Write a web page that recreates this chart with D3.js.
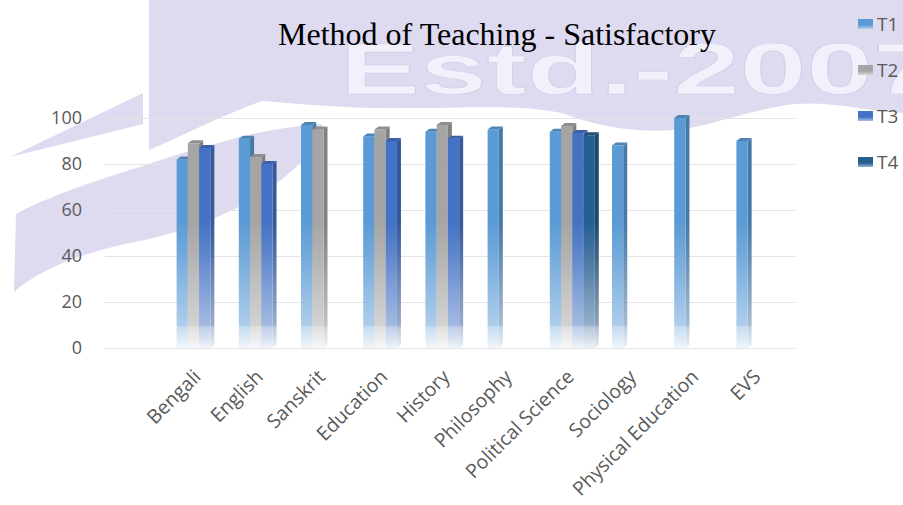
<!DOCTYPE html>
<html>
<head>
<meta charset="utf-8">
<script src="https://cdn.jsdelivr.net/npm/d3@7"></script>
<style>
  html, body { margin: 0; padding: 0; background: #ffffff; }
  svg { display: block; }
</style>
</head>
<body>
<svg id="chart" width="903" height="505"></svg>
<script>
// ---------------- data ----------------
const categories = ["Bengali", "English", "Sanskrit", "Education", "History", "Philosophy",
  "Political Science", "Sociology", "Physical Education", "EVS"];
const seriesNames = ["T1", "T2", "T3", "T4"];
const t1Values = [82, 91, 97, 92, 94, 95, 94, 88, 100, 90];
const t2Values = [89, 83, 95, 95, 97, null, 96.5, null, null, null];
const t3Values = [87, 80, null, 90, 91, null, 93.5, null, null, null];
const t4Values = [null, null, null, null, null, null, 92.5, null, null, null];
const yTickValues = [0, 20, 40, 60, 80, 100];
const titleText = "Method of Teaching - Satisfactory";
const watermarkText = "Estd.-2007";

const seriesValues = [t1Values, t2Values, t3Values, t4Values];
const seriesColors = ["#5B9BD5", "#A5A5A5", "#4472C4", "#255E91"];

// ---------------- setup ----------------
const svg = d3.select("#chart");
const plotLeft = 105, plotRight = 795;

const y = d3.scaleLinear().domain([0, 100]).range([348, 118]);
const x = d3.scaleBand().domain(categories).range([168, 790]).padding(0);
const clusterW = 45;
const xs = d3.scaleBand().domain(seriesNames).range([0, clusterW]).padding(0);

const defs = svg.append("defs");
const darker = (c, k) => d3.rgb(c).darker(k).formatHex();
const mix = (c, t) => d3.interpolateRgb(c, "#ffffff")(t);

function addGradient(id, color) {
  const g = defs.append("linearGradient").attr("id", id)
    .attr("gradientUnits", "userSpaceOnUse")
    .attr("x1", 0).attr("x2", 0).attr("y1", y(100)).attr("y2", y(0));
  const stops = [[0, 0], [0.45, 0], [0.6, 0.15], [0.75, 0.33], [0.9, 0.5], [0.91, 0.66], [0.97, 0.82], [1, 0.92]];
  stops.forEach(([o, t]) => g.append("stop").attr("offset", o).attr("stop-color", mix(color, t)));
}
function addSwatchGradient(id, color) {
  const g = defs.append("linearGradient").attr("id", id)
    .attr("x1", 0).attr("x2", 0).attr("y1", 0).attr("y2", 1);
  g.append("stop").attr("offset", 0).attr("stop-color", color);
  g.append("stop").attr("offset", 0.6).attr("stop-color", color);
  g.append("stop").attr("offset", 1).attr("stop-color", mix(color, 0.55));
}
seriesColors.forEach((c, i) => {
  addGradient("front" + i, c);
  addGradient("side" + i, darker(c, 0.7));
  addSwatchGradient("sw" + i, c);
});

// ---------------- watermark ----------------
const wm = svg.append("g").attr("class", "watermark");
const lav = "#DEDAF0";
wm.append("path").attr("fill", lav)
  .attr("d", "M149,0 L903,0 L903,113 C860,110 830,101 795,104 C760,108 720,122 690,128 C650,135 600,128 565,114 C525,104 470,108 410,108 C350,109 300,104 262,101 C230,112 190,132 149,150 Z");
wm.append("path").attr("fill", lav)
  .attr("d", "M10,157 L143,93 L143,124 Z");
wm.append("path").attr("fill", lav)
  .attr("d", "M14,292 C40,268 90,250 145,240 C190,230 228,214 255,198 C282,182 305,160 322,140 L322,124 C290,126 255,132 222,142 C190,150 160,160 143,166 C90,182 40,200 16,214 Z");
wm.append("text")
  .attr("x", 340).attr("y", 94)
  .attr("textLength", 600).attr("lengthAdjust", "spacingAndGlyphs")
  .attr("font-family", "Liberation Sans, Arial, sans-serif")
  .attr("font-size", 72).attr("font-weight", "bold")
  .attr("fill", "#F2F0FA").attr("stroke", "#D4CEE9").attr("stroke-width", 0.7)
  .text(watermarkText);

// ---------------- gridlines & y axis ----------------
const grid = svg.append("g").attr("transform", `translate(${plotLeft},0)`)
  .call(d3.axisLeft(y).tickValues(yTickValues).tickSize(-(plotRight - plotLeft)).tickFormat(""));
grid.select(".domain").remove();
grid.selectAll(".tick line").attr("stroke", "#E4E4E4").attr("stroke-width", 1.2);

const yAxis = svg.append("g").attr("transform", `translate(${plotLeft},0)`)
  .call(d3.axisLeft(y).tickValues(yTickValues).tickSize(0).tickPadding(23));
yAxis.select(".domain").remove();
yAxis.selectAll("text")
  .attr("font-family", "Open Sans, sans-serif").attr("font-size", 18)
  .attr("fill", "#595959");

// ---------------- bars (pseudo 3D) ----------------
const dx = 4, dy = -3;
const bars = svg.append("g").attr("class", "bars");
categories.forEach((cat, ci) => {
  const x0 = x(cat) + (x.bandwidth() - clusterW) / 2;
  seriesNames.forEach((s, si) => {
    const v = seriesValues[si][ci];
    if (v == null) return;
    const bx = x0 + xs(s), bw = xs.bandwidth();
    const top = y(v), base = y(0);
    const c = seriesColors[si];
    bars.append("path")
      .attr("d", `M${bx + bw},${top} L${bx + bw + dx},${top + dy} L${bx + bw + dx},${base + dy} L${bx + bw},${base} Z`)
      .attr("fill", `url(#side${si})`);
    bars.append("rect")
      .attr("x", bx).attr("y", top).attr("width", bw).attr("height", base - top)
      .attr("fill", `url(#front${si})`);
    bars.append("path")
      .attr("d", `M${bx},${top} L${bx + dx},${top + dy} L${bx + bw + dx},${top + dy} L${bx + bw},${top} Z`)
      .attr("fill", darker(c, 0.45));
  });
});

// ---------------- x axis labels ----------------
const xLabels = svg.append("g");
categories.forEach(cat => {
  const cx = x(cat) + x.bandwidth() / 2;
  xLabels.append("text")
    .attr("transform", `translate(${cx + 3},${378}) rotate(-45)`)
    .attr("text-anchor", "end")
    .attr("font-family", "Open Sans, sans-serif").attr("font-size", 19.5)
    .attr("fill", "#595959")
    .text(cat);
});

// ---------------- title ----------------
svg.append("text")
  .attr("x", 497).attr("y", 45).attr("text-anchor", "middle")
  .attr("font-family", "Liberation Serif, Times New Roman, serif")
  .attr("font-size", 32).attr("fill", "#000")
  .text(titleText);

// ---------------- legend ----------------
const legend = svg.append("g");
seriesNames.forEach((s, i) => {
  const cy = 24 + i * 46;
  legend.append("rect").attr("x", 858).attr("y", cy - 5).attr("width", 15).attr("height", 10)
    .attr("fill", `url(#sw${i})`);
  legend.append("text").attr("x", 877).attr("y", cy).attr("dy", "0.35em")
    .attr("font-family", "Open Sans, sans-serif").attr("font-size", 19)
    .attr("fill", "#595959").text(s);
});
</script>
</body>
</html>
